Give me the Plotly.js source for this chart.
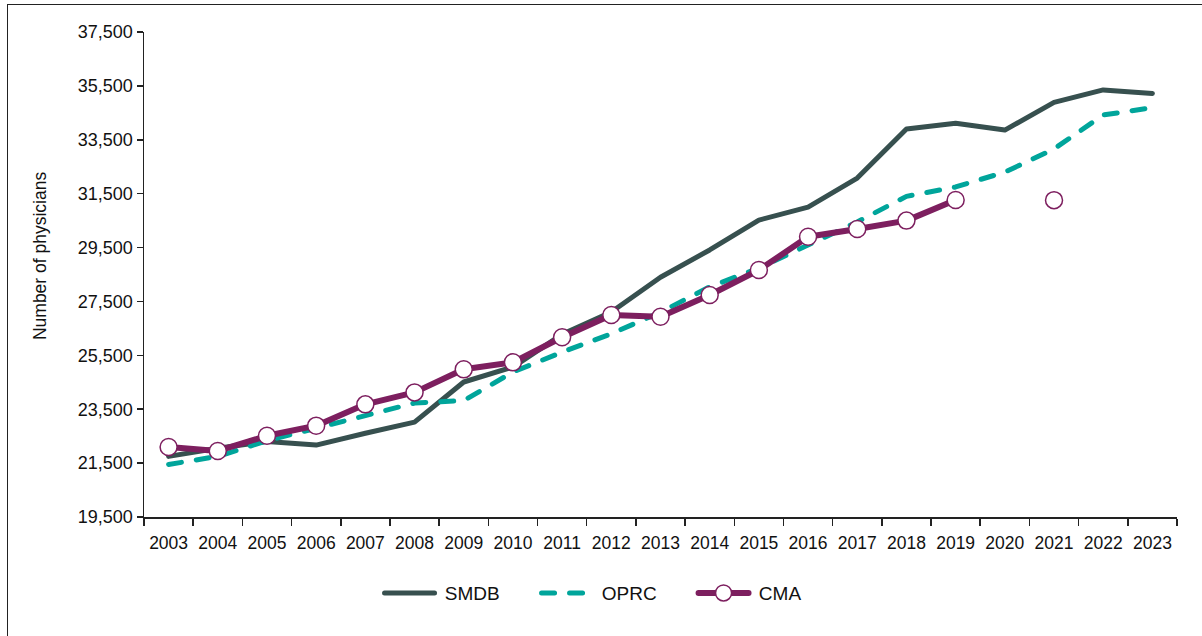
<!DOCTYPE html>
<html>
<head>
<meta charset="utf-8">
<script src="https://cdn.plot.ly/plotly-3.0.1.min.js"></script>
<style>
html, body { margin: 0; padding: 0; background: #fff; }
#wrap { position: relative; width: 1202px; height: 636px; overflow: hidden; }
#frame { position: absolute; left: 7px; top: 4px; width: 1200px; height: 640px; border: 1.5px solid #222; box-sizing: border-box; pointer-events: none; }
#chart { width: 1202px; height: 636px; }
.scatterlayer path.js-line, .legend path.js-line { stroke-linecap: round; stroke-linejoin: round; }
</style>
</head>
<body>
<div id="wrap">
<div id="chart"></div>
<div id="frame"></div>
</div>
<script>
const years = ['2003','2004','2005','2006','2007','2008','2009','2010','2011','2012','2013','2014','2015','2016','2017','2018','2019','2020','2021','2022','2023'];
const smdb = [21750, 22050, 22300, 22170, 22610, 23020, 24510, 25065, 26280, 27110, 28400, 29410, 30520, 31000, 32080, 33900, 34110, 33860, 34890, 35350, 35220];
const oprc = [21450, 21750, 22330, 22800, 23280, 23730, 23820, 24880, 25620, 26300, 27100, 28040, 28740, 29590, 30450, 31400, 31750, 32300, 33160, 34420, 34690];
const cma  = [22100, 21950, 22515, 22890, 23680, 24125, 24980, 25240, 26170, 27000, 26930, 27740, 28665, 29900, 30190, 30500, 31265, null, 31260, null, null];
const yTicks = [19500, 21500, 23500, 25500, 27500, 29500, 31500, 33500, 35500, 37500];
const seriesNames = ['SMDB', 'OPRC', 'CMA'];
const yTitle = 'Number of physicians';

const FONT = '"Liberation Sans", Arial, sans-serif';
const NB = '\u00a0';

const traces = [
  { x: years, y: smdb, name: NB + seriesNames[0], type: 'scatter', mode: 'lines',
    line: { color: '#37504f', width: 5 } },
  { x: years, y: oprc, name: NB + seriesNames[1], type: 'scatter', mode: 'lines',
    line: { color: '#00a59b', width: 5, dash: '13px,15px' } },
  { x: years, y: cma, name: NB + seriesNames[2], type: 'scatter', mode: 'lines+markers',
    connectgaps: false,
    line: { color: '#7d1f5f', width: 6 },
    marker: { symbol: 'circle', size: 17, color: '#ffffff', line: { color: '#7d1f5f', width: 1.5 } } }
];

const layout = {
  width: 1202, height: 636,
  margin: { l: 144, r: 25, t: 32, b: 119 },
  paper_bgcolor: '#fff', plot_bgcolor: '#fff',
  font: { family: FONT, size: 17.5, color: '#111' },
  showlegend: true,
  legend: {
    orientation: 'h', x: 0.456, xanchor: 'center', y: -0.157, yanchor: 'middle',
    itemwidth: 50, entrywidth: 92, font: { family: FONT, size: 19, color: '#111' },
    traceorder: 'normal'
  },
  xaxis: {
    type: 'category', range: [-0.5, 20.5], tickson: 'boundaries', tickangle: 0,
    showline: true, linecolor: '#222', linewidth: 1.5,
    ticks: 'outside', ticklen: 7, tickcolor: '#222', tickwidth: 1.5,
    ticklabelstandoff: 9,
    showgrid: false, zeroline: false, fixedrange: true,
    tickfont: { family: FONT, size: 17.5, color: '#111' }
  },
  yaxis: {
    range: [19500, 37500], tickmode: 'array', tickvals: yTicks,
    ticktext: yTicks.map(v => v.toLocaleString('en-US')),
    showline: true, linecolor: '#222', linewidth: 1.5,
    ticks: 'outside', ticklen: 6, tickcolor: '#222', tickwidth: 1.5,
    showgrid: false, zeroline: false, fixedrange: true,
    tickfont: { family: FONT, size: 18, color: '#111' }
  },
  annotations: [{
    text: yTitle, textangle: -90, showarrow: false,
    xref: 'paper', yref: 'paper', x: 0, y: 0.538, xanchor: 'center', yanchor: 'middle',
    xshift: -104, font: { family: FONT, size: 17.5, color: '#111' }
  }]
};

Plotly.newPlot('chart', traces, layout, { staticPlot: true, displayModeBar: false });
</script>
</body>
</html>
